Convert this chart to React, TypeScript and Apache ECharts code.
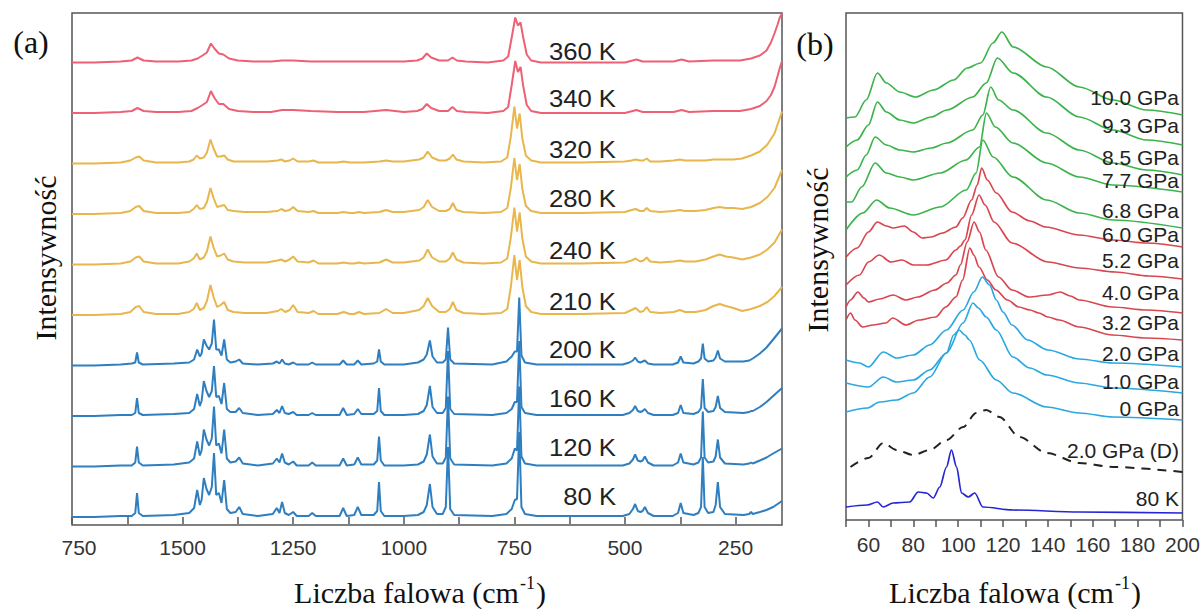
import React, { useEffect, useRef } from "react";
import * as echarts from "echarts";

// ---------------- panel (a): spectra at different temperatures ----------------
const TEMP_LABELS = ["80 K", "120 K", "160 K", "200 K", "210 K", "240 K", "280 K", "320 K", "340 K", "360 K"];

// wavenumber grid (cm-1) of the low-temperature spectra
const WN_LOW = [
  1750, 1700, 1640, 1615, 1607, 1603, 1599, 1590,
  1520, 1485, 1474, 1467, 1461, 1457, 1452, 1446, 1440, 1434, 1429, 1424, 1418, 1412, 1406, 1400, 1392, 1380, 1372, 1364,
  1330, 1296, 1287, 1281, 1275, 1269, 1260, 1250, 1242, 1215, 1207, 1199, 1145, 1137, 1129, 1112, 1104, 1096, 1068, 1060, 1056, 1052, 1044,
  1000, 968, 955, 948, 941, 935, 925, 912, 905, 900, 895, 886,
  800, 768, 756, 749, 744, 739, 734, 726, 700,
  600, 505, 490, 482, 477, 471, 465, 460, 455, 448, 435,
  392, 380, 374, 368, 345, 334, 328, 324, 320, 312, 300, 295, 290, 285, 274, 232, 219, 215, 211, 195, 180, 165, 145,
];
const I_80K = [
  0, 0, 1, 1, 4, 24, 4, 1,
  2, 4, 9, 27, 12, 17, 39, 28, 22, 30, 64, 22, 24, 14, 37, 8, 4, 5, 10, 3,
  1, 3, 9, 4, 15, 4, 2, 5, 1, 1, 4, 1, 1, 9, 1, 2, 10, 2, 2, 6, 35, 6, 1,
  1, 2, 5, 12, 33, 10, 3, 3, 10, 70, 8, 2,
  1, 3, 8, 17, 18, 85, 10, 3, 1,
  1, 1, 3, 8, 13, 6, 5, 6, 10, 4, 1,
  1, 4, 14, 4, 2, 4, 10, 60, 10, 4, 5, 12, 35, 10, 3, 2, 3, 5, 3, 5, 7, 10, 16,
];
const I_120K = [
  0, 0, 1, 1, 4, 20, 4, 1,
  2, 4, 8, 25, 11, 16, 37, 27, 21, 28, 60, 21, 23, 13, 37, 8, 4, 5, 9, 3,
  1, 3, 8, 4, 13, 4, 2, 5, 1, 1, 4, 1, 1, 8, 1, 2, 9, 2, 2, 6, 30, 6, 1,
  1, 2, 5, 12, 32, 10, 3, 3, 9, 70, 8, 2,
  1, 3, 8, 18, 16, 80, 10, 3, 1,
  1, 1, 3, 7, 12, 6, 5, 6, 10, 4, 1,
  1, 4, 13, 4, 2, 4, 9, 55, 9, 4, 5, 10, 27, 9, 3, 2, 3, 4, 3, 6, 9, 13, 18,
];
const I_160K = [
  0, 0, 1, 1, 3, 18, 3, 1,
  2, 3, 7, 22, 10, 15, 35, 25, 19, 25, 50, 19, 20, 12, 33, 7, 4, 4, 8, 3,
  1, 2, 6, 3, 10, 3, 2, 4, 1, 1, 3, 1, 1, 8, 1, 2, 7, 2, 2, 5, 28, 5, 1,
  1, 2, 5, 11, 30, 9, 3, 3, 8, 65, 7, 2,
  1, 3, 7, 14, 14, 75, 9, 3, 1,
  1, 1, 3, 6, 10, 5, 4, 5, 7, 3, 1,
  1, 3, 11, 3, 2, 4, 8, 37, 8, 4, 5, 9, 20, 8, 4, 3, 4, 5, 5, 9, 14, 20, 28,
];
const I_200K = [
  0, 0, 1, 2, 3, 13, 3, 1,
  2, 3, 6, 16, 9, 12, 26, 20, 16, 22, 46, 16, 16, 10, 26, 6, 3, 4, 6, 2,
  1, 2, 4, 2, 6, 2, 1, 3, 1, 1, 3, 1, 1, 5, 1, 1, 5, 1, 2, 4, 16, 4, 1,
  1, 3, 6, 11, 25, 9, 3, 3, 6, 38, 6, 2,
  1, 4, 9, 14, 14, 68, 10, 3, 1,
  1, 1, 3, 5, 8, 4, 3, 4, 5, 2, 1,
  1, 3, 9, 3, 2, 4, 7, 22, 7, 4, 5, 8, 15, 7, 4, 4, 5, 6, 7, 12, 18, 26, 37,
];

// wavenumber grid of the intermediate-temperature spectra
const WN_MID = [
  1750, 1700, 1640, 1618, 1606, 1598, 1588, 1560,
  1510, 1485, 1475, 1468, 1461, 1452, 1445, 1437, 1430, 1422, 1414, 1406, 1398, 1385, 1360,
  1310, 1285, 1277, 1268, 1258, 1250, 1240, 1215, 1204, 1193, 1150, 1136, 1122, 1112, 1101, 1090, 1055, 1040, 1025,
  1000, 965, 955, 946, 936, 920, 905, 896, 889, 881, 865,
  820, 780, 766, 758, 750, 744, 738, 732, 724, 712, 690,
  600, 500, 485, 476, 466, 458, 451, 443, 420,
  390, 376, 364, 340, 318, 300, 286, 272, 255, 235, 215, 195, 178, 162, 145,
];
const I_210K = [
  0, 0, 1, 3, 8, 9, 3, 1,
  1, 3, 6, 12, 5, 7, 14, 30, 18, 8, 10, 13, 5, 3, 2,
  2, 4, 6, 3, 5, 10, 3, 2, 4, 1, 1, 3, 1, 1, 3, 1, 2, 6, 2,
  2, 5, 9, 17, 9, 3, 3, 6, 13, 5, 2,
  1, 2, 6, 28, 60, 35, 55, 28, 9, 3, 1,
  1, 2, 5, 7, 3, 4, 8, 3, 2,
  3, 5, 3, 3, 5, 9, 11, 9, 7, 4, 6, 9, 13, 19, 28,
];
const I_240K = [
  0, 0, 1, 3, 7, 8, 3, 1,
  1, 3, 6, 11, 5, 7, 13, 28, 17, 8, 9, 11, 5, 3, 2,
  2, 4, 5, 3, 5, 8, 3, 2, 4, 1, 1, 2, 1, 1, 2, 1, 2, 5, 2,
  2, 4, 7, 15, 7, 3, 3, 6, 12, 5, 2,
  1, 2, 6, 27, 57, 33, 52, 26, 8, 3, 1,
  1, 2, 4, 6, 3, 4, 7, 3, 2,
  3, 4, 3, 3, 5, 8, 10, 8, 7, 5, 7, 10, 15, 22, 35,
];
const I_280K = [
  0, 0, 1, 3, 7, 8, 3, 1,
  1, 2, 5, 9, 5, 6, 12, 26, 16, 7, 8, 9, 4, 3, 2,
  2, 3, 5, 3, 4, 7, 3, 2, 3, 1, 1, 2, 1, 1, 2, 1, 2, 4, 2,
  2, 4, 7, 14, 7, 3, 3, 5, 11, 4, 2,
  1, 2, 6, 26, 56, 34, 50, 25, 8, 3, 1,
  1, 2, 4, 5, 3, 3, 6, 3, 2,
  3, 4, 3, 3, 4, 6, 7, 6, 6, 5, 7, 11, 17, 26, 44,
];
const I_320K = [
  0, 0, 1, 3, 6, 7, 3, 1,
  1, 2, 4, 8, 5, 6, 11, 24, 15, 7, 7, 8, 4, 2, 2,
  2, 3, 4, 2, 3, 5, 2, 2, 3, 1, 1, 2, 1, 1, 1, 1, 2, 3, 2,
  2, 4, 6, 12, 6, 3, 3, 5, 9, 4, 2,
  1, 2, 6, 27, 57, 35, 50, 25, 8, 3, 1,
  1, 2, 3, 4, 3, 3, 5, 2, 2,
  3, 4, 3, 3, 3, 4, 4, 4, 4, 5, 8, 12, 19, 30, 52,
];

// wavenumber grid of the high-temperature spectra
const WN_HIGH = [
  1750, 1700, 1640, 1615, 1602, 1588, 1560,
  1510, 1480, 1466, 1455, 1445, 1436, 1428, 1418, 1408, 1395, 1375, 1340,
  1300, 1275, 1250, 1210, 1150, 1090, 1040, 1000,
  970, 958, 948, 938, 920, 900, 890, 880, 860,
  810, 775, 764, 756, 748, 742, 736, 730, 722, 712, 690,
  600, 500, 474, 460, 420,
  390, 372, 355, 300, 260, 240, 215, 195, 180, 170, 162, 155, 150, 145,
];
const I_340K = [
  0, 0, 1, 2, 5, 2, 1,
  1, 2, 5, 8, 11, 22, 15, 9, 9, 4, 2, 1,
  1, 3, 3, 2, 1, 1, 3, 1,
  2, 4, 9, 5, 2, 2, 6, 2, 1,
  0, 2, 6, 28, 52, 41, 46, 27, 8, 2, 0,
  0, 0, 3, 1, 1,
  1, 3, 1, 2, 2, 2, 4, 7, 12, 18, 26, 37, 45, 52,
];
const I_360K = [
  0, 0, 1, 2, 5, 2, 1,
  1, 2, 4, 7, 10, 19, 14, 9, 8, 4, 2, 1,
  1, 2, 2, 1, 1, 1, 1, 1,
  2, 4, 9, 5, 2, 2, 5, 2, 1,
  0, 2, 6, 25, 45, 37, 40, 25, 8, 2, 0,
  0, 0, 3, 1, 1,
  1, 3, 1, 2, 2, 2, 4, 7, 12, 20, 29, 38, 45, 49,
];

// vertical shift between neighbouring temperature spectra
const STACK_STEP_A = 50.5;

// x-axis ticks of panel (a)
const TICK_VALUES_A = [1750, 1500, 1250, 1000, 750, 500, 250];
const TICK_LABELS_A = ["750", "1500", "1250", "1000", "750", "500", "250"];
const MINOR_TICKS_A = [1750, 1625, 1500, 1375, 1250, 1125, 1000, 875, 750, 625, 500, 375, 250];

// ---------------- panel (b): low-wavenumber spectra under pressure ----------------
const PRESSURE_LABELS = [
  "10.0 GPa", "9.3 GPa", "8.5 GPa", "7.7 GPa", "6.8 GPa", "6.0 GPa", "5.2 GPa",
  "4.0 GPa", "3.2 GPa", "2.0 GPa", "1.0 GPa", "0 GPa", "2.0 GPa (D)", "80 K",
];
const P_100 = [[50, 402], [54, 403], [59, 420], [64, 447], [68, 437], [74, 428], [81, 423], [89, 430], [98, 440], [104, 452], [110, 457], [115.5, 477], [119.5, 488], [124.5, 473], [139.5, 453], [154, 433], [169, 420], [184, 410], [200, 405]];
const P_93 = [[50, 373], [55, 380], [60, 395], [64, 418], [68, 408], [74, 400], [80, 397], [88, 403], [95, 410], [106.5, 423], [112.5, 437], [117.5, 462], [124.5, 447], [139.5, 423], [154, 403], [169, 390], [184, 380], [200, 375]];
const P_85 = [[50, 343], [55, 350], [59, 365], [63, 383], [68, 375], [74, 370], [80, 368], [88, 372], [95, 377], [106.5, 390], [111, 405], [114.5, 433], [118, 420], [124.5, 410], [139.5, 387], [154, 370], [169, 357], [184, 350], [200, 345]];
const P_77 = [[50, 318], [52.5, 318], [57, 333], [63, 357], [68, 347], [74, 343], [80, 340], [92, 347], [103.5, 360], [109.5, 373], [112.6, 407], [116.6, 393], [124.4, 377], [139.5, 357], [154, 343], [169, 335], [200, 328]];
const P_68 = [[50, 290], [57.5, 307], [63.6, 320], [69.5, 312], [80, 305], [92, 313], [103.6, 330], [108, 347], [111, 380], [115.6, 363], [124.4, 343], [139.5, 320], [154, 307], [169, 300], [200, 292]];
const P_60 = [[50, 263], [55, 272], [60, 288], [64, 298], [68, 294], [71, 292], [76, 294], [80, 288], [84, 282], [88, 283], [93, 287], [99, 293], [102, 302], [106, 320], [108.5, 335], [110.5, 352], [113, 340], [117, 327], [124, 308], [132, 299], [139, 293], [154, 285], [169, 280], [184, 277], [200, 273]];
const P_52 = [[50, 235], [56, 245], [60, 258], [64.8, 265], [70, 258], [75, 260], [80, 255], [86, 255], [94.5, 260], [99, 270], [101, 274], [103, 280], [106, 305], [109.3, 325], [112, 315], [116, 298], [124, 277], [140, 258], [154, 252], [170, 248], [185, 244], [200, 241]];
const P_40 = [[50, 213], [52, 220], [55.3, 228], [58, 222], [60, 218], [65, 221], [71, 225], [76.7, 220], [82, 223], [89.6, 230], [95, 237], [99, 245], [101, 255], [104, 278], [107.1, 298], [109.5, 288], [112.3, 270], [118, 243], [124, 230], [131.6, 223], [140, 225], [145.5, 228], [150, 224], [154, 220], [168.7, 213], [184, 210], [200, 207]];
const P_32 = [[50, 200], [52, 207], [54, 200], [57.4, 193], [62, 195], [67.8, 197], [70.8, 202], [76.7, 195], [82.6, 200], [90, 203], [94.5, 213], [99, 223], [102, 240], [105.2, 272], [107, 265], [109.3, 253], [113, 240], [116.8, 230], [122, 220], [127, 213], [132, 210], [136, 207], [140, 203], [145, 200], [154, 193], [168.7, 185], [184, 182], [200, 180]];
const P_20 = [[50, 160], [56, 157], [60, 153], [66.6, 168], [72.5, 162], [80, 165], [87.3, 175], [94.8, 190], [102.2, 210], [107, 228], [110.8, 243], [114, 235], [117, 220], [120, 208], [124, 195], [131, 180], [140, 170], [154, 161], [169, 157], [200, 153]];
const P_10 = [[50, 137], [60, 133], [66.6, 143], [72.5, 138], [80, 140], [87.3, 150], [94.8, 167], [102.2, 197], [106.6, 217], [109, 212], [112.5, 203], [117, 190], [124.4, 163], [132, 152], [139.5, 145], [154, 137], [169, 132], [200, 127]];
const P_00 = [[50, 108], [59.5, 112], [65, 118], [72.5, 120], [80, 127], [87.3, 143], [94.8, 167], [98, 185], [100.4, 190], [103, 185], [105, 180], [109.6, 160], [117, 140], [124.4, 127], [139.5, 113], [154, 107], [169, 103], [200, 100]];
const P_20D = [[52, 53], [60, 62], [66.6, 77], [72.5, 70], [80, 65], [87.3, 70], [94.8, 80], [102.2, 93], [108, 107], [112.5, 110], [118.4, 103], [127.3, 83], [139.5, 67], [154, 57], [169, 53], [200, 48]];
const K80_LOW = [[50, 13], [59.5, 15], [64, 18], [66.6, 13], [71, 17], [78.4, 18], [82.2, 28], [85.9, 27], [88.9, 22], [91.8, 33], [94.8, 53], [97, 70], [99.3, 53], [101.5, 27], [104.5, 23], [107.4, 27], [111, 13], [124.4, 10], [154, 8], [200, 7]];

// ---------------- styling ----------------
const SANS = '"Liberation Sans", Arial, Helvetica, sans-serif';
const SERIF = '"Liberation Serif", "Times New Roman", serif';
const FRAME = "#555555";
const TEXT = "#222222";
const BLUE_A = "#2e7ec0";
const YELLOW_A = "#e8b64c";
const RED_A = "#ee6073";
const GREEN_B = "#3cb44b";
const RED_B = "#d9464f";
const CYAN_B = "#2aa8e0";
const DASH_B = "#222222";
const NAVY_B = "#2626d6";

function buildOption(): any {
  const groupA = [
    { wn: WN_LOW, y: I_80K, color: BLUE_A },
    { wn: WN_LOW, y: I_120K, color: BLUE_A },
    { wn: WN_LOW, y: I_160K, color: BLUE_A },
    { wn: WN_LOW, y: I_200K, color: BLUE_A },
    { wn: WN_MID, y: I_210K, color: YELLOW_A },
    { wn: WN_MID, y: I_240K, color: YELLOW_A },
    { wn: WN_MID, y: I_280K, color: YELLOW_A },
    { wn: WN_MID, y: I_320K, color: YELLOW_A },
    { wn: WN_HIGH, y: I_340K, color: RED_A },
    { wn: WN_HIGH, y: I_360K, color: RED_A },
  ];
  const seriesA = groupA
    .map((g, i) => ({
      name: TEMP_LABELS[i],
      type: "line",
      xAxisIndex: 0,
      yAxisIndex: 0,
      showSymbol: false,
      silent: true,
      lineStyle: { color: g.color, width: 2 },
      data: g.wn.map((w, j) => [w, i * STACK_STEP_A + g.y[j]]),
    }))
    .reverse();

  const groupB = [
    { d: P_100, color: GREEN_B }, { d: P_93, color: GREEN_B }, { d: P_85, color: GREEN_B },
    { d: P_77, color: GREEN_B }, { d: P_68, color: GREEN_B },
    { d: P_60, color: RED_B }, { d: P_52, color: RED_B }, { d: P_40, color: RED_B }, { d: P_32, color: RED_B },
    { d: P_20, color: CYAN_B }, { d: P_10, color: CYAN_B }, { d: P_00, color: CYAN_B },
    { d: P_20D, color: DASH_B, dashed: true },
    { d: K80_LOW, color: NAVY_B },
  ];
  const seriesB = groupB.map((g: any, i) => ({
    name: PRESSURE_LABELS[i],
    type: "line",
    xAxisIndex: 1,
    yAxisIndex: 1,
    showSymbol: false,
    silent: true,
    smooth: 0.3,
    smoothMonotone: "x",
    lineStyle: g.dashed
      ? { color: g.color, width: 2, type: [9, 7] }
      : { color: g.color, width: 1.7 },
    data: g.d,
  }));

  const labelAY = [497, 448, 399, 350, 302, 251, 199, 150, 99, 52];
  const labelBY = [97, 125, 157, 180, 210, 234, 260, 292, 322, 353, 381, 408, 450, 498];

  const text = (x: number, y: number, str: string, style: any, extra: any = {}) => ({
    type: "text",
    x,
    y,
    z: 20,
    silent: true,
    ...extra,
    style: { text: str, fill: TEXT, ...style },
  });

  const titleRich = {
    t: { fontFamily: SERIF, fontSize: 30, fill: "#111", lineHeight: 36 },
    s: { fontFamily: SERIF, fontSize: 18, fill: "#111", lineHeight: 36, verticalAlign: "top", padding: [0, 1, 0, 1] },
  };
  const titleText = "{t|Liczba falowa (cm}{s|-1}{t|)}";

  const graphics: any[] = [
    text(31, 42, "(a)", { fontFamily: SERIF, fontSize: 32, fill: "#111", align: "center", verticalAlign: "middle" }),
    text(815, 44, "(b)", { fontFamily: SERIF, fontSize: 32, fill: "#111", align: "center", verticalAlign: "middle" }),
    text(45, 258, "Intensywność", { fontFamily: SERIF, fontSize: 30, fill: "#111", align: "center", verticalAlign: "middle" }, { rotation: Math.PI / 2 }),
    text(817, 250, "Intensywność", { fontFamily: SERIF, fontSize: 30, fill: "#111", align: "center", verticalAlign: "middle" }, { rotation: Math.PI / 2 }),
    text(420, 592, titleText, { align: "center", verticalAlign: "middle", rich: titleRich }),
    text(1015, 592, titleText, { align: "center", verticalAlign: "middle", rich: titleRich }),
    ...TEMP_LABELS.map((s, i) =>
      text(616, labelAY[i], s, { fontFamily: SANS, fontSize: 24, align: "right", verticalAlign: "middle" }, { scaleX: 1.07 })
    ),
    ...PRESSURE_LABELS.map((s, i) =>
      text(1179, labelBY[i], s, { fontFamily: SANS, fontSize: 21, align: "right", verticalAlign: "middle" })
    ),
  ];

  const tickStyle = { color: FRAME, width: 1.5 };

  return {
    animation: false,
    backgroundColor: "#ffffff",
    grid: [
      { left: 72, top: 13, width: 710, height: 512, show: true, borderColor: FRAME, borderWidth: 1.5, backgroundColor: "transparent", containLabel: false },
      { left: 846, top: 13, width: 337, height: 507, show: true, borderColor: FRAME, borderWidth: 1.5, backgroundColor: "transparent", containLabel: false },
    ],
    xAxis: [
      {
        gridIndex: 0,
        type: "value",
        min: 145,
        max: 1750,
        inverse: true,
        axisLine: { show: false },
        splitLine: { show: false },
        axisTick: { show: true, customValues: MINOR_TICKS_A, length: 7, lineStyle: tickStyle },
        axisLabel: {
          customValues: TICK_VALUES_A,
          margin: 12,
          fontSize: 21,
          fontFamily: SANS,
          color: "#333",
          formatter: (v: number) => {
            const i = TICK_VALUES_A.indexOf(v);
            if (i < 0) return "";
            return i === 0 ? `{edge|${TICK_LABELS_A[0]}}` : TICK_LABELS_A[i];
          },
          rich: { edge: { fontSize: 21, fontFamily: SANS, color: "#333", padding: [0, 0, 0, 14] } },
        },
      },
      {
        gridIndex: 1,
        type: "value",
        min: 50,
        max: 200,
        interval: 10,
        axisLine: { show: false },
        splitLine: { show: false },
        axisTick: { show: true, length: 7, lineStyle: tickStyle },
        axisLabel: {
          margin: 14,
          fontSize: 21,
          fontFamily: SANS,
          color: "#333",
          showMinLabel: true,
          showMaxLabel: true,
          formatter: (v: number) => (v % 20 === 0 ? String(v) : ""),
        },
      },
    ],
    yAxis: [
      { gridIndex: 0, type: "value", min: -8, max: 504, show: false },
      { gridIndex: 1, type: "value", min: 0, max: 507, show: false },
    ],
    series: [...seriesA, ...seriesB],
    graphic: graphics,
  };
}

export default function App() {
  const ref = useRef<HTMLDivElement>(null);
  useEffect(() => {
    if (!ref.current) return;
    const chart = echarts.init(ref.current, null, { renderer: "svg" });
    chart.setOption(buildOption());
    return () => chart.dispose();
  }, []);
  return (
    <div
      ref={ref}
      style={{ position: "fixed", left: 0, top: 0, width: 1203, height: 609, background: "#fff" }}
    />
  );
}
